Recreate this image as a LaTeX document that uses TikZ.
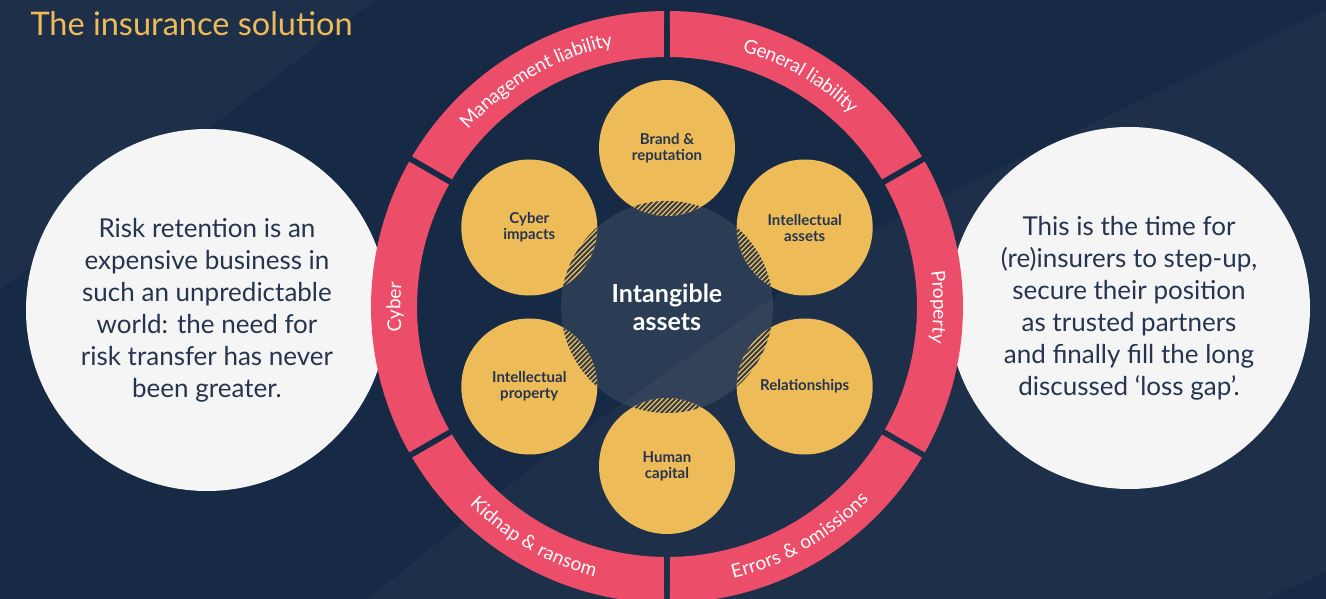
\documentclass[tikz,border=0pt]{standalone}
\usepackage{fontspec}
\setmainfont{Lato}
\usetikzlibrary{decorations.text}
\definecolor{bgdark}{HTML}{172A45}
\definecolor{bglight}{HTML}{1E3049}
\definecolor{ringpink}{HTML}{EC4D69}
\definecolor{gold}{HTML}{EDBB57}
\definecolor{paper}{HTML}{F5F5F5}
\definecolor{ink}{HTML}{26354F}
\definecolor{hatchink}{HTML}{2F3B4F}

\begin{document}
\begin{tikzpicture}[x=1pt,y=1pt,
  asset/.style={circle, fill=gold, minimum size=136pt, inner sep=0pt, text=ink,
    align=center, font=\fontsize{15}{16}\selectfont\bfseries},
  bubble/.style={circle, fill=paper, minimum size=362pt, inner sep=0pt, text=ink,
    align=center, font=\fontsize{26}{32}\selectfont},
  core/.style={circle, fill=white, fill opacity=0.09, text opacity=1, text=white,
    minimum size=212pt, inner sep=0pt, align=center,
    font=\fontsize{25}{28}\selectfont\bfseries},
  ringlabel/.style={decorate, decoration={text along path, text align=center,
    raise=-6.5pt, text={|\fontsize{19}{19}\selectfont\color{white}|#1}}},
  hatchline/.style={hatchink, line width=1.8pt}
  ]
\useasboundingbox (-667,-292) rectangle (659,307);

% background panels
\fill[bgdark] (-667,-292) rectangle (659,307);
\fill[bglight] (-667,307) -- (-292,307) -- (-667,17) -- cycle;
\fill[bglight] (-299,-292) -- (-126,-153) -- (193,70) -- (659,297) -- (659,-292) -- cycle;
\fill[bgdark] (600,-292) -- (659,-265) -- (659,-292) -- cycle;

% title
\node[anchor=base west, text=gold, font=\fontsize{32.5}{32.5}\selectfont] (title)
  at (-640,271) {The insurance solution};

% side statements
\node[bubble] (retention) at (-460,-3)
  {Risk retention is an\\expensive business in\\such an unpredictable\\world: the need for\\risk transfer has never\\been greater.};
\node[bubble] (stepup) at (462,-1)
  {This is the time for\\(re)insurers to step-up,\\secure their position\\as trusted partners\\and finally fill the long\\discussed ‘loss gap’.};

% insurance ring: six segments separated by parallel gaps
\foreach \a in {120,60,0,-60,-120,180}{
  \fill[ringpink] ({\a-30+0.58}:296) arc[start angle={\a-30+0.58}, end angle={\a+30-0.58}, radius=296]
    -- ({\a+30-0.69}:250) arc[start angle={\a+30-0.69}, end angle={\a-30+0.69}, radius=250] -- cycle;
}

% intangible assets core
\node[core] (core) at (0,0) {Intangible\\assets};

% asset bubbles
\node[asset] (brand)   at (90:159)   {Brand \&\\reputation};
\node[asset] (ipassets) at (30:159)  {Intellectual\\assets};
\node[asset] (relations) at (-30:159) {Relationships};
\node[asset] (human)   at (-90:159)  {Human\\capital};
\node[asset] (ipprop)  at (-150:159) {Intellectual\\property};
\node[asset] (cyberimp) at (150:159) {Cyber\\impacts};

% hatched overlaps between the core and each asset
\begin{scope}
  \clip (0,0) circle[radius=106];
  \foreach \a in {90,30,-30,-90,-150,150}{
    \begin{scope}
      \clip (\a:159) circle[radius=68];
      \foreach \k in {-250,-245,...,250}
        \draw[hatchline] (\k-130,-130) -- (\k+130,130);
    \end{scope}
  }
\end{scope}

% ring labels
\path[ringlabel={Management liability}] (150:273) arc[start angle=150, end angle=90, radius=273];
\path[ringlabel={General liability}] (90:273) arc[start angle=90, end angle=30, radius=273];
\path[ringlabel={Property}] (30:273) arc[start angle=30, end angle=-30, radius=273];
\path[ringlabel={Errors {\&} omissions}] (-90:273) arc[start angle=-90, end angle=-30, radius=273];
\path[ringlabel={Kidnap {\&} ransom}] (-150:273) arc[start angle=-150, end angle=-90, radius=273];
\path[ringlabel={Cyber}] (210:273) arc[start angle=210, end angle=150, radius=273];
\end{tikzpicture}
\end{document}
